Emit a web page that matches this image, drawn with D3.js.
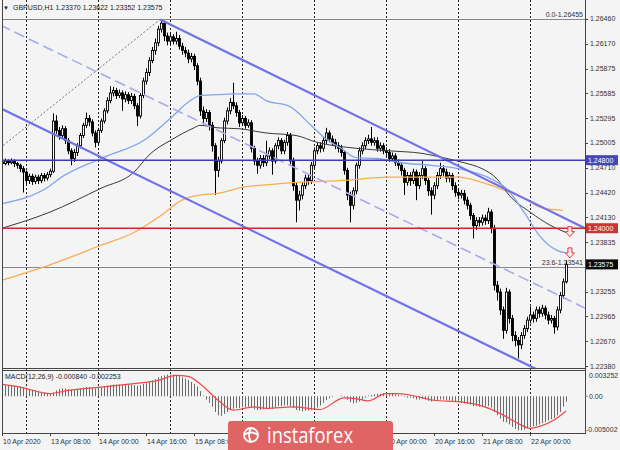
<!DOCTYPE html>
<html><head><meta charset="utf-8">
<script src="https://cdn.jsdelivr.net/npm/d3@7"></script>
<style>
body{margin:0;background:#f4f4f4;}
svg{display:block;font-family:"Liberation Sans",Arial,sans-serif;}
</style>
</head><body>
<svg id="c" width="620" height="450"></svg>
<script>
// ---------------- DATA ----------------
const symbolTitle = "GBPUSD,H1";
const headerOHLC = ["1.23370", "1.23622", "1.23352", "1.23575"];
const firstOpen = 1.2478;
const closes = [
1.2476,1.2479,1.2477,1.2479,1.2476,1.2474,1.2470,1.2466,1.2456,1.2461,
1.2455,1.2460,1.2456,1.2462,1.2459,1.2463,1.2467,1.2526,1.2515,1.2509,
1.2517,1.2503,1.2491,1.2482,1.2489,1.2497,1.2509,1.2521,1.2529,1.2525,
1.2512,1.2501,1.2515,1.2526,1.2538,1.2550,1.2559,1.2562,1.2556,1.2559,
1.2552,1.2557,1.2550,1.2555,1.2544,1.2532,1.2556,1.2573,1.2583,1.2597,
1.2609,1.2618,1.2634,1.2641,1.2626,1.2620,1.2625,1.2620,1.2623,1.2614,
1.2609,1.2606,1.2599,1.2602,1.2591,1.2573,1.2538,1.2529,1.2536,1.2521,
1.2497,1.2468,1.2479,1.2503,1.2526,1.2538,1.2548,1.2544,1.2536,1.2524,
1.2529,1.2521,1.2524,1.2494,1.2479,1.2474,1.2482,1.2477,1.2485,1.2491,
1.2479,1.2497,1.2503,1.2491,1.2501,1.2509,1.2479,1.2450,1.2433,1.2439,
1.2450,1.2459,1.2456,1.2474,1.2491,1.2497,1.2494,1.2503,1.2512,1.2505,
1.2501,1.2497,1.2494,1.2489,1.2468,1.2439,1.2427,1.2444,1.2474,1.2491,
1.2497,1.2503,1.2505,1.2501,1.2503,1.2494,1.2497,1.2491,1.2489,1.2482,
1.2485,1.2477,1.2474,1.2468,1.2454,1.2462,1.2456,1.2466,1.2450,1.2462,
1.2470,1.2456,1.2444,1.2439,1.2450,1.2462,1.2470,1.2466,1.2459,1.2462,
1.2450,1.2442,1.2439,1.2441,1.2433,1.2427,1.2415,1.2403,1.2409,1.2407,
1.2412,1.2409,1.2419,1.2400,1.2333,1.2325,1.2304,1.2280,1.2325,1.2294,
1.2274,1.2268,1.2263,1.2274,1.2282,1.2292,1.2298,1.2294,1.2304,1.2300,
1.2306,1.2298,1.2292,1.2294,1.2284,1.2304,1.2321,1.2337,1.23575];
const highs = [
1.2481,1.2482,1.2481,1.2482,1.2481,1.2478,1.2476,1.2473,1.2468,1.2464,
1.2464,1.2463,1.2463,1.2465,1.2465,1.2466,1.2470,1.2535,1.2533,1.2519,
1.2521,1.2520,1.2506,1.2494,1.2493,1.2500,1.2512,1.2524,1.2536,1.2533,
1.2528,1.2515,1.2518,1.2529,1.2541,1.2554,1.2567,1.2566,1.2565,1.2563,
1.2562,1.2561,1.2560,1.2559,1.2558,1.2547,1.2559,1.2577,1.2588,1.2601,
1.2613,1.2623,1.2638,1.26455,1.2644,1.2630,1.2629,1.2628,1.2631,1.2627,
1.2618,1.2613,1.2610,1.2606,1.2605,1.2594,1.2577,1.2543,1.2540,1.2539,
1.2525,1.2500,1.2484,1.2506,1.2530,1.2542,1.2553,1.2571,1.2548,1.2539,
1.2533,1.2532,1.2528,1.2527,1.2497,1.2483,1.2486,1.2486,1.2503,1.2495,
1.2494,1.2500,1.2507,1.2506,1.2504,1.2513,1.2512,1.2483,1.2454,1.2444,
1.2454,1.2463,1.2463,1.2478,1.2495,1.2501,1.2501,1.2507,1.2518,1.2515,
1.2509,1.2505,1.2501,1.2498,1.2492,1.2471,1.2443,1.2448,1.2477,1.2495,
1.2501,1.2507,1.2510,1.2519,1.2507,1.2507,1.2501,1.2500,1.2495,1.2493,
1.2489,1.2488,1.2481,1.2478,1.2471,1.2466,1.2466,1.2470,1.2469,1.2466,
1.2480,1.2473,1.2459,1.2448,1.2454,1.2466,1.2477,1.2474,1.2470,1.2466,
1.2465,1.2454,1.2446,1.2445,1.2445,1.2437,1.2430,1.2418,1.2413,1.2413,
1.2416,1.2416,1.2424,1.2422,1.2404,1.2338,1.2329,1.2308,1.2330,1.2328,
1.2298,1.2279,1.2272,1.2278,1.2286,1.2296,1.2308,1.2302,1.2308,1.2308,
1.2310,1.2309,1.2302,1.2298,1.2297,1.2308,1.2325,1.2341,1.23622];
const lows = [
1.2473,1.2474,1.2474,1.2475,1.2472,1.2470,1.2466,1.2442,1.2452,1.2452,
1.2451,1.2452,1.2452,1.2453,1.2455,1.2456,1.2460,1.2465,1.2511,1.2504,
1.2505,1.2499,1.2487,1.2474,1.2478,1.2485,1.2494,1.2506,1.2518,1.2520,
1.2508,1.2495,1.2498,1.2512,1.2523,1.2535,1.2547,1.2555,1.2552,1.2553,
1.2538,1.2548,1.2546,1.2546,1.2540,1.2520,1.2529,1.2553,1.2569,1.2579,
1.2594,1.2604,1.2614,1.2630,1.2620,1.2615,1.2616,1.2616,1.2616,1.2610,
1.2604,1.2601,1.2594,1.2595,1.2586,1.2568,1.2532,1.2522,1.2525,1.2515,
1.2490,1.2439,1.2460,1.2476,1.2500,1.2522,1.2534,1.2540,1.2531,1.2519,
1.2520,1.2517,1.2518,1.2489,1.2474,1.2464,1.2470,1.2472,1.2473,1.2481,
1.2463,1.2476,1.2493,1.2487,1.2487,1.2497,1.2475,1.2444,1.2407,1.2421,
1.2434,1.2446,1.2451,1.2452,1.2470,1.2487,1.2489,1.2490,1.2499,1.2501,
1.2497,1.2493,1.2489,1.2484,1.2463,1.2433,1.2407,1.2422,1.2440,1.2470,
1.2487,1.2493,1.2499,1.2497,1.2497,1.2490,1.2490,1.2487,1.2484,1.2478,
1.2478,1.2473,1.2469,1.2462,1.2439,1.2450,1.2450,1.2452,1.2433,1.2446,
1.2458,1.2451,1.2438,1.2416,1.2434,1.2446,1.2458,1.2461,1.2454,1.2454,
1.2445,1.2437,1.2434,1.2435,1.2428,1.2422,1.2410,1.2388,1.2398,1.2402,
1.2403,1.2404,1.2405,1.2394,1.2327,1.2315,1.2298,1.2270,1.2276,1.2288,
1.2267,1.2261,1.2247,1.2258,1.2270,1.2278,1.2288,1.2289,1.2290,1.2295,
1.2296,1.2293,1.2287,1.2288,1.2276,1.2280,1.2300,1.2317,1.23352];

// Moving averages: [bar index, price]
const maBlue = [[0,1.2429],[16,1.2450],[19,1.2458],[33,1.2482],[48,1.2505],[57,1.2532],[62,1.2548],[66,1.2556],[72,1.2557],[77,1.2558],[84,1.2558],[88,1.2550],[96,1.2543],[103,1.2521],[108,1.2505],[113,1.2494],[118,1.2483],[125,1.2482],[133,1.2477],[143,1.2474],[152,1.2470],[163,1.2458],[168,1.2447],[174,1.2419],[179,1.2392],[185,1.2374],[188,1.2371]];
const maBlack = [[0,1.2400],[16,1.2419],[33,1.2447],[44,1.2466],[49,1.2486],[57,1.2505],[64,1.2518],[66,1.2521],[72,1.2518],[79,1.2517],[88,1.2512],[98,1.2509],[105,1.2501],[118,1.2494],[129,1.2491],[140,1.2488],[147,1.2483],[154,1.2477],[160,1.2470],[165,1.2458],[169,1.2439],[176,1.2419],[183,1.2403],[188,1.2395]];
const maOrange = [[0,1.2339],[16,1.2357],[33,1.2380],[44,1.2395],[53,1.2415],[60,1.2433],[66,1.2439],[72,1.2441],[80,1.2448],[88,1.2451],[98,1.2454],[113,1.2456],[129,1.2460],[140,1.2460],[152,1.2460],[160,1.2454],[168,1.2444],[174,1.2435],[180,1.2424],[187,1.2421]];

// Drawn objects: [bar index, price] endpoints
const channelUpper = [[52.7,1.26455],[194.33,1.2400]];
const channelLower = [[-0.67,1.25414],[194.33,1.22065]];
const channelMid = [[-0.67,1.26389],[194.33,1.23062]];
const fibTrend = [[-0.67,1.24943],[52.7,1.26455]];
const fibLevels = [{label:"0.0-1.26455", price:1.26455},{label:"23.6-1.23541", price:1.23541}];
const levelBlue = 1.2480;
const levelRed = 1.2400;
const lastPrice = 1.23575;
const arrowMarks = [[189.3,1.2396],[189.3,1.2371]];

// Axis
const priceTicks = ["1.26460","1.26170","1.25875","1.25585","1.25295","1.25005","1.24710","1.24420","1.24130","1.23835","1.23255","1.22965","1.22670","1.22380"];
const timeLabels = ["10 Apr 2020","13 Apr 08:00","14 Apr 00:00","14 Apr 16:00","15 Apr 08:00","16 Apr 00:00","16 Apr 16:00","17 Apr 08:00","20 Apr 00:00","20 Apr 16:00","21 Apr 08:00","22 Apr 00:00"];
const timeLabelIdx = [0,16,32,48,64,80,96,112,128,144,160,176];
const daySeparators = [8,32,56,80,104,128,152,176];

// MACD(12,26,9)
const macdLabel = "MACD(12,26,9) -0.000840 -0.002253";
const macdTicks = ["0.003252","0.00","-0.005002"];
const macdHist = [
0.0018,0.0017,0.0017,0.0016,0.0016,0.0015,0.0015,0.0014,0.0013,0.0011,
0.0010,0.0009,0.0008,0.0007,0.0006,0.0005,0.0004,0.0006,0.0009,0.0011,
0.0012,0.0012,0.0011,0.0010,0.0010,0.0011,0.0012,0.0013,0.0014,0.0014,
0.0013,0.0012,0.0013,0.0014,0.0015,0.0016,0.0017,0.0018,0.0018,0.0018,
0.0018,0.0018,0.0018,0.0018,0.0017,0.0016,0.0017,0.0019,0.0020,0.0022,
0.0024,0.0026,0.0029,0.0031,0.0032,0.0033,0.0033,0.0033,0.0032,0.0031,
0.0029,0.0027,0.0025,0.0022,0.0019,0.0015,0.0008,0.0001,-0.0005,-0.0010,
-0.0016,-0.0024,-0.0029,-0.0030,-0.0027,-0.0024,-0.0021,-0.0019,-0.0018,-0.0018,
-0.0017,-0.0017,-0.0016,-0.0018,-0.0020,-0.0021,-0.0021,-0.0020,-0.0019,-0.0018,
-0.0019,-0.0017,-0.0015,-0.0015,-0.0014,-0.0014,-0.0015,-0.0018,-0.0021,-0.0022,
-0.0023,-0.0022,-0.0022,-0.0021,-0.0019,-0.0017,-0.0014,-0.0010,-0.0006,-0.0003,
-0.0001,0.0000,0.0000,0.0001,-0.0001,-0.0005,-0.0009,-0.0011,-0.0010,-0.0008,
-0.0005,-0.0002,0.0001,0.0002,0.0003,0.0004,0.0004,0.0005,0.0005,0.0005,
0.0004,0.0003,0.0002,0.0001,-0.0001,-0.0002,-0.0002,-0.0003,-0.0005,-0.0005,
-0.0004,-0.0005,-0.0007,-0.0008,-0.0007,-0.0006,-0.0005,-0.0005,-0.0006,-0.0006,
-0.0007,-0.0008,-0.0009,-0.0010,-0.0011,-0.0012,-0.0013,-0.0015,-0.0015,-0.0016,
-0.0016,-0.0016,-0.0015,-0.0017,-0.0024,-0.0029,-0.0034,-0.0039,-0.0040,-0.0043,
-0.0047,-0.0050,-0.0052,-0.0052,-0.0051,-0.0049,-0.0047,-0.0046,-0.0045,-0.0043,
-0.0041,-0.0039,-0.0037,-0.0035,-0.0033,-0.0029,-0.0024,-0.0016,-0.00084];
const macdSignal = [[0,0.00182],[6,0.00141],[16,0.00041],[22,0.00091],[33,0.00141],[44,0.00193],[52,0.00243],[58,0.00318],[62,0.00303],[66,0.00193],[72,-0.00061],[77,-0.00212],[84,-0.00162],[88,-0.00186],[97,-0.00162],[106,-0.00202],[114,-0.00023],[118,-0.00035],[122,-0.00071],[128,0.00041],[132,0.00041],[138,0.0],[144,-0.00061],[153,-0.00086],[159,-0.00136],[166,-0.00262],[172,-0.00414],[176,-0.0049],[179,-0.00465],[184,-0.00364],[188,-0.002253]];

const watermark = "instaforex";

// ---------------- DRAW ----------------
const svg = d3.select("#c");
const x = d3.scaleLinear().domain([0,194.33]).range([2,585]);
const y = d3.scaleLinear().domain([1.22357,1.26683]).range([368,0]);
const yM = d3.scaleLinear().domain([-0.005002,0.003252]).range([429,375]);
const wmBox = {x:228, y:421, w:165, h:40};

svg.append("rect").attr("width",620).attr("height",450).attr("fill","#f4f4f4");

const defs = svg.append("defs");
defs.append("clipPath").attr("id","cm").append("rect").attr("x",2).attr("y",0).attr("width",583).attr("height",368);
defs.append("clipPath").attr("id","cd").append("rect").attr("x",2).attr("y",371).attr("width",583).attr("height",62);

// day separators
svg.append("g").selectAll("line").data(daySeparators).join("line")
  .attr("x1",d=>x(d)+0.5).attr("x2",d=>x(d)+0.5).attr("y1",0).attr("y2",433)
  .attr("stroke","#222").attr("stroke-width",1).attr("stroke-dasharray","2,2");

const main = svg.append("g").attr("clip-path","url(#cm)");

// fib levels
main.selectAll("line.fib").data(fibLevels).join("line").attr("class","fib")
  .attr("x1",2).attr("x2",585).attr("y1",d=>Math.round(y(d.price))+0.5).attr("y2",d=>Math.round(y(d.price))+0.5)
  .attr("stroke","#8a8a8a").attr("stroke-width",1);

// candles
const opens = closes.map((c,i)=> i===0 ? firstOpen : closes[i-1]);
const bars = d3.range(closes.length);
main.append("g").selectAll("line").data(bars).join("line")
  .attr("x1",i=>Math.round(x(i))+0.5).attr("x2",i=>Math.round(x(i))+0.5)
  .attr("y1",i=>y(highs[i])).attr("y2",i=>y(lows[i]))
  .attr("stroke","#000").attr("stroke-width",1);
main.append("g").selectAll("rect").data(bars).join("rect")
  .attr("x",i=>Math.round(x(i))-0.5).attr("width",2)
  .attr("y",i=>y(Math.max(opens[i],closes[i])))
  .attr("height",i=>Math.max(0.8,Math.abs(y(opens[i])-y(closes[i]))))
  .attr("fill",i=>closes[i]>=opens[i]?"#fff":"#000")
  .attr("stroke","#000").attr("stroke-width",0.9);

// moving averages
const maLine = d3.line().x(d=>x(d[0])).y(d=>y(d[1])).curve(d3.curveMonotoneX);
main.append("path").attr("d",maLine(maOrange)).attr("fill","none").attr("stroke","#f7ad52").attr("stroke-width",1.3);
main.append("path").attr("d",maLine(maBlack)).attr("fill","none").attr("stroke","#3a3a3a").attr("stroke-width",1);
main.append("path").attr("d",maLine(maBlue)).attr("fill","none").attr("stroke","#7fa6ee").attr("stroke-width",1.3);

// channel + fib trend
const seg = d3.line().x(d=>x(d[0])).y(d=>y(d[1]));
main.append("path").attr("d",seg(fibTrend)).attr("stroke","#777").attr("stroke-width",1).attr("stroke-dasharray","2,2").attr("fill","none");
main.append("path").attr("d",seg(channelMid)).attr("stroke","#a9a9ef").attr("stroke-width",1.6).attr("stroke-dasharray","11,5").attr("fill","none");
main.append("path").attr("d",seg(channelUpper)).attr("stroke","#7171ea").attr("stroke-width",2.2).attr("fill","none");
main.append("path").attr("d",seg(channelLower)).attr("stroke","#7171ea").attr("stroke-width",2.2).attr("fill","none");

// horizontal levels
main.append("line").attr("x1",2).attr("x2",585).attr("y1",y(levelBlue)).attr("y2",y(levelBlue)).attr("stroke","#3d3db0").attr("stroke-width",1.6);
main.append("line").attr("x1",2).attr("x2",585).attr("y1",y(levelRed)).attr("y2",y(levelRed)).attr("stroke","#c82a2a").attr("stroke-width",1.6);

// fib labels
main.selectAll("text.fibl").data(fibLevels).join("text").attr("class","fibl")
  .attr("x",583).attr("y",d=>y(d.price)-2).attr("text-anchor","end")
  .attr("font-size",7).attr("fill","#333").text(d=>d.label);

// arrows
const arrowPath = "M-2,-5 L2,-5 L2,0 L4.5,0 L0,5 L-4.5,0 L-2,0 Z";
main.selectAll("path.arr").data(arrowMarks).join("path").attr("class","arr")
  .attr("d",arrowPath).attr("transform",d=>`translate(${x(d[0])},${y(d[1])})`)
  .attr("fill","#fbeaea").attr("stroke","#e03a3a").attr("stroke-width",1);

// MACD panel
const md = svg.append("g").attr("clip-path","url(#cd)");
md.append("g").selectAll("line").data(bars).join("line")
  .attr("x1",i=>Math.round(x(i))+0.5).attr("x2",i=>Math.round(x(i))+0.5)
  .attr("y1",yM(0)).attr("y2",i=>yM(macdHist[i]))
  .attr("stroke","#6a6a6a").attr("stroke-width",1);
md.append("path").attr("d",d3.line().x(d=>x(d[0])).y(d=>yM(d[1])).curve(d3.curveMonotoneX)(macdSignal))
  .attr("fill","none").attr("stroke","#f04848").attr("stroke-width",1.2);
svg.append("text").attr("x",5).attr("y",379).attr("font-size",7).attr("fill","#222").text(macdLabel);

// frame
const fr = svg.append("g").attr("stroke","#444").attr("stroke-width",1);
fr.append("line").attr("x1",2.5).attr("x2",2.5).attr("y1",0).attr("y2",433.5);
fr.append("line").attr("x1",585.5).attr("x2",585.5).attr("y1",0).attr("y2",433.5);
fr.append("line").attr("x1",2).attr("x2",586).attr("y1",368.5).attr("y2",368.5);
fr.append("line").attr("x1",2).attr("x2",586).attr("y1",370.5).attr("y2",370.5);
fr.append("line").attr("x1",2).attr("x2",586).attr("y1",433.5).attr("y2",433.5);

// price axis
const pa = svg.append("g");
pa.selectAll("line").data(priceTicks).join("line")
  .attr("x1",585).attr("x2",588).attr("y1",d=>Math.round(y(+d))+0.5).attr("y2",d=>Math.round(y(+d))+0.5).attr("stroke","#444");
pa.selectAll("text").data(priceTicks).join("text")
  .attr("x",590).attr("y",d=>y(+d)+2.5).attr("font-size",7).attr("fill","#333").text(d=>d);

// level boxes
const boxes = [{v:levelBlue,bg:"#4646b4",fg:"#fff"},{v:levelRed,bg:"#c83636",fg:"#fff"},{v:lastPrice,bg:"#0a0a0a",fg:"#fff"}];
const bx = svg.append("g").selectAll("g").data(boxes).join("g");
bx.append("rect").attr("x",586).attr("width",32).attr("y",d=>y(d.v)-5).attr("height",10).attr("fill",d=>d.bg);
bx.append("text").attr("x",588).attr("y",d=>y(d.v)+2.5).attr("font-size",7).attr("fill",d=>d.fg).text(d=>d.v.toFixed(5));

// macd axis
const mv = [0.003252,0,-0.005002];
svg.selectAll("text.mt").data(macdTicks).join("text").attr("class","mt")
  .attr("x",(d,i)=>i===2?586:589).attr("y",(d,i)=>yM(mv[i])+2.5).attr("font-size",7).attr("fill","#333").text(d=>d);
svg.append("line").attr("x1",585).attr("x2",588).attr("y1",yM(0)).attr("y2",yM(0)).attr("stroke","#c08020");

// time axis (labels fully covered by the watermark are not visible in the picture)
const timeItems = timeLabels.map((t,k)=>({t, xx:x(timeLabelIdx[k])+1}))
  .filter(d=> !(d.xx >= wmBox.x && d.xx + 40 <= wmBox.x + wmBox.w));
svg.selectAll("line.tt").data(timeLabelIdx).join("line").attr("class","tt")
  .attr("x1",i=>x(i)+0.5).attr("x2",i=>x(i)+0.5).attr("y1",433).attr("y2",436).attr("stroke","#444");
svg.selectAll("text.tl").data(timeItems).join("text").attr("class","tl")
  .attr("x",d=>d.xx).attr("y",444).attr("font-size",7).attr("fill","#333").text(d=>d.t);

// header
svg.append("text").attr("x",3).attr("y",10).attr("font-size",6).attr("fill","#222").text("▼");
svg.append("text").attr("x",13).attr("y",10).attr("font-size",7).attr("fill","#222")
  .text(symbolTitle + "  " + headerOHLC.join(" "));

// watermark
const wm = svg.append("g");
wm.append("rect").attr("x",wmBox.x).attr("y",wmBox.y).attr("width",wmBox.w).attr("height",wmBox.h).attr("rx",3).attr("fill","#e06464");
const lg = wm.append("g").attr("transform","translate(251,435)").attr("fill","none").attr("stroke","#fff").attr("stroke-width",1.8);
lg.append("circle").attr("r",7);
lg.append("path").attr("d","M-7,0 Q0,-5 7,0");
lg.append("path").attr("d","M0,-7 Q-4,0 0,7");
wm.append("text").attr("x",267).attr("y",443).attr("font-size",21).attr("font-family","'Open Sans',sans-serif")
  .attr("fill","#fff").attr("textLength",86).attr("lengthAdjust","spacingAndGlyphs").text(watermark);
</script>
</body></html>
